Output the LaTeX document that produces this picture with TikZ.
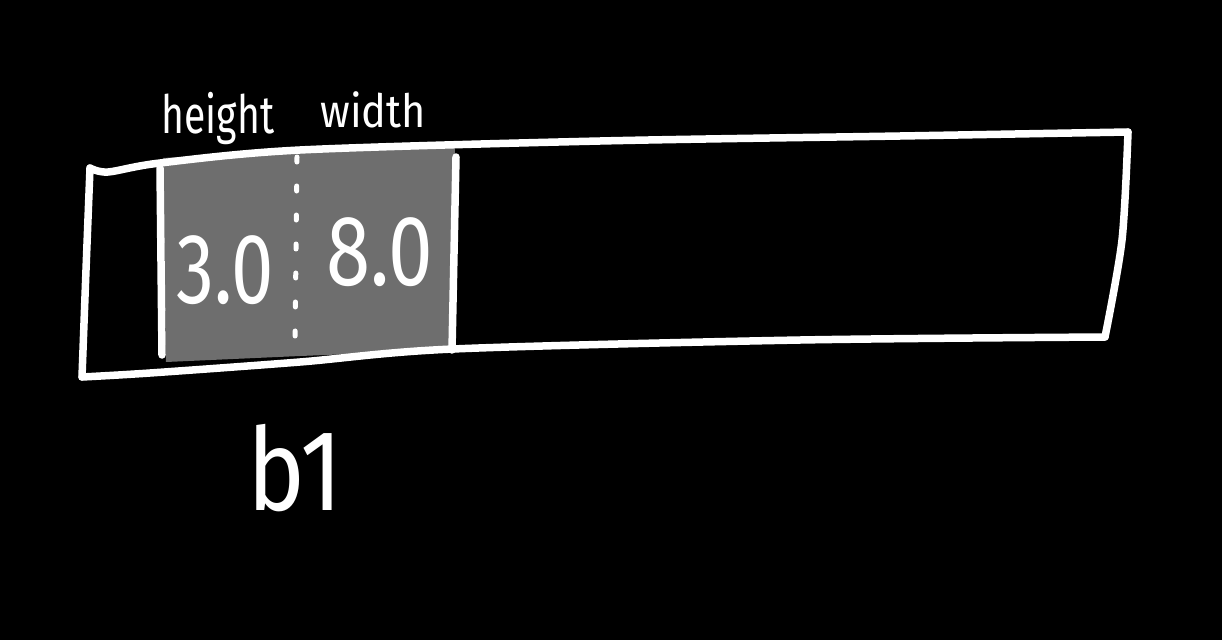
\documentclass[tikz,border=0pt]{standalone}
\usepackage{fontspec}
\setmainfont{Fira Sans}
\definecolor{cellgray}{HTML}{6E6E6E}
\begin{document}
\begin{tikzpicture}[x=1pt,y=-1pt,
  ink/.style={draw=white,line width=7.5pt,line cap=round,line join=round},
  thin ink/.style={draw=white,line width=5pt,line cap=round},
  big/.style={text=white,font=\fontsize{100}{100}\selectfont\mdseries,inner sep=0pt},
  huge/.style={text=white,font=\fontsize{115}{115}\selectfont\mdseries,inner sep=0pt},
  small/.style={text=white,font=\fontsize{46}{46}\selectfont\mdseries,inner sep=0pt}]
\fill[black] (0,0) rectangle (1222,640);
\useasboundingbox (0,0) rectangle (1222,640);
% gray cell
\fill[cellgray] (163,158) -- (300,150) -- (455,146) -- (452,350) -- (300,356) -- (166,362) -- cycle;
% outer bar
\draw[ink] plot[smooth,tension=0.5] coordinates {(90,168) (108,172) (160,163) (300,150) (600,141) (900,136) (1128,132)};
\draw[ink] plot[smooth,tension=0.5] coordinates {(1128,132) (1122,240) (1105,337)};
\draw[ink] plot[smooth,tension=0.5] coordinates {(1105,337) (800,340) (453,349) (300,362) (150,373) (82,377)};
\draw[ink] plot[smooth,tension=0.5] coordinates {(82,377) (86,270) (90,168)};
% cell borders
\draw[ink] (160,168) -- (162,355);
\draw[ink] (456,157) -- (452,350);
% dashed divider
\draw[thin ink,dash pattern=on 5pt off 24pt] (297,157) -- (295,345);
% texts
\node[big] (h) at (225,270) {\scalebox{0.76}[1]{3.0}};
\node[big] (w) at (380,252) {\scalebox{0.8}[1]{8.0}};
\node[small] (lh) at (218,118) {\scalebox{0.85}[1.15]{height}};
\node[small] (lw) at (373,110) {\scalebox{0.9}[1]{width}};
\node[huge] (b) at (295,468) {\scalebox{0.85}[1]{b1}};
\end{tikzpicture}
\end{document}
